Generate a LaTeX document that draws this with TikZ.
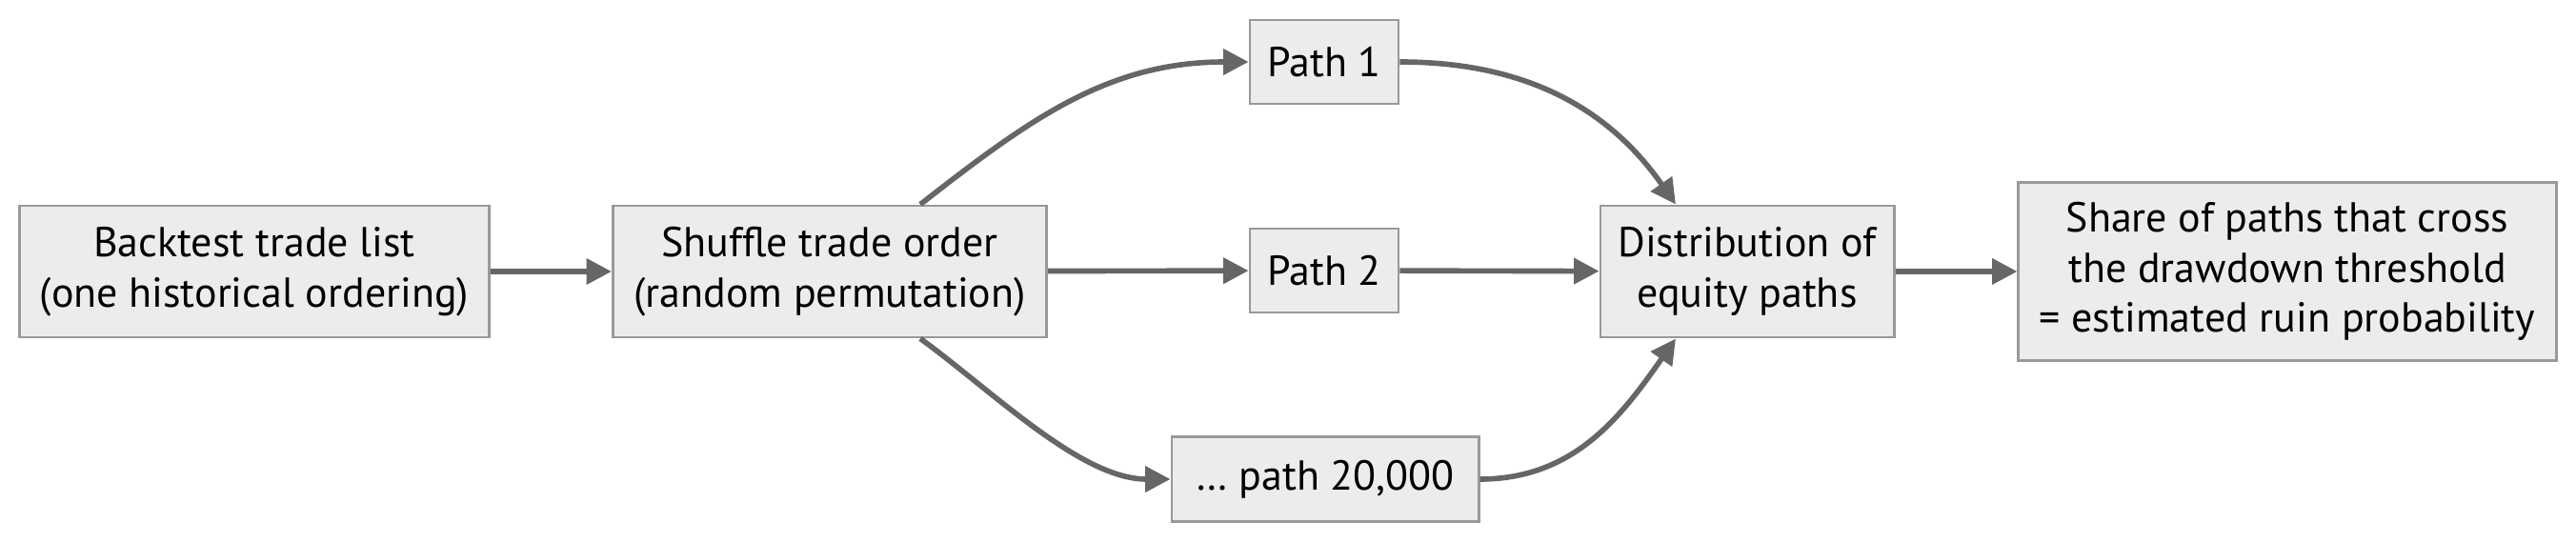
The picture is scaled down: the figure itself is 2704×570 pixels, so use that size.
\documentclass[tikz,border=0pt]{standalone}
\usepackage{fontspec}
\setmainfont{PT Sans}
\usetikzlibrary{arrows.meta}
\definecolor{boxfill}{HTML}{ECECEC}
\definecolor{boxline}{HTML}{999999}
\definecolor{arrowgray}{HTML}{666666}
\begin{document}
\begin{tikzpicture}[x=0.01cm,y=0.01cm,
    box/.style={draw=boxline,fill=boxfill,line width=0.8pt,align=center,inner sep=0pt,
        font=\fontsize{12.5}{15}\selectfont},
    flow/.style={draw=arrowgray,line width=1.6pt,-{Triangle[length=7.5pt,width=7.5pt]}}]
    \useasboundingbox (0,0) rectangle (2704,570);
    \node[box,minimum width=4.93cm,minimum height=1.38cm] (trades) at (267,285) {Backtest trade list\\(one historical ordering)};
    \node[box,minimum width=4.55cm,minimum height=1.38cm] (shuffle) at (871,285) {Shuffle trade order\\(random permutation)};
    \node[box,minimum width=1.56cm,minimum height=0.88cm] (path1) at (1390,505) {Path 1};
    \node[box,minimum width=1.56cm,minimum height=0.88cm] (path2) at (1390,286) {Path 2};
    \node[box,minimum width=3.22cm,minimum height=0.89cm] (pathN) at (1391,67) {\ldots\ path 20,000};
    \node[box,minimum width=3.08cm,minimum height=1.38cm] (dist) at (1834,285) {Distribution of\\equity paths};
    \node[box,minimum width=5.64cm,minimum height=1.87cm] (ruin) at (2401,285) {Share of paths that cross\\the drawdown threshold\\= estimated ruin probability};
    \draw[flow] (trades) -- (shuffle);
    \draw[flow] ([xshift=9.5mm]shuffle.north) to[out=38,in=180] (path1.west);
    \draw[flow] (shuffle) -- (path2);
    \draw[flow] ([xshift=9.5mm]shuffle.south) to[out=-36,in=180,looseness=0.8] (pathN.west);
    \draw[flow] (path1.east) to[out=0,in=125] ([xshift=-7.5mm]dist.north);
    \draw[flow] (path2) -- (dist);
    \draw[flow] (pathN.east) to[out=0,in=-125] ([xshift=-7.5mm]dist.south);
    \draw[flow] (dist) -- (ruin);
\end{tikzpicture}
\end{document}
